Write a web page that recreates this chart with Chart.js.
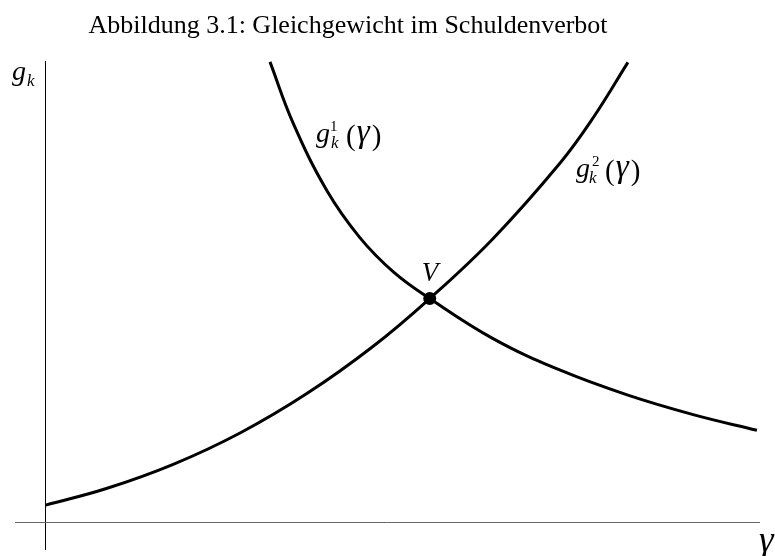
<!DOCTYPE html>
<html>
<head>
<meta charset="utf-8">
<script src="https://cdn.jsdelivr.net/npm/chart.js@4"></script>
<style>
html,body{margin:0;padding:0;background:#fff;}
#wrap{width:775px;height:556px;}
</style>
</head>
<body>
<div id="wrap"><canvas id="c" width="775" height="556"></canvas></div>
<script>
// ---- data (γ on x, g_k on y) ----
const gamma1 = [2.92, 3.22, 3.66, 4.09, 4.53, 5.00, 5.83, 6.70, 7.57, 8.43, 9.26];
const g1     = [10.28, 8.92, 7.41, 6.36, 5.59, 5.00, 4.10, 3.40, 2.85, 2.41, 2.06];
const gamma2 = [0.00, 0.79, 1.66, 2.53, 3.40, 4.26, 5.00, 5.82, 6.70, 7.13, 7.58];
const g2     = [0.39, 0.76, 1.30, 2.00, 2.88, 3.93, 5.00, 6.33, 8.03, 9.04, 10.27];
const equilibriumGamma = [5.0];
const equilibriumG     = [5.0];
const xRange = [-0.4, 9.3];
const yRange = [-0.6, 10.3];
const titleText = "Abbildung 3.1: Gleichgewicht im Schuldenverbot";

const toPts = (xs, ys) => xs.map((x, i) => ({x: x, y: ys[i]}));

const SERIF = '"Liberation Serif", "Times New Roman", serif';

function fontOf(r) { return (r.italic ? 'italic ' : '') + r.size + 'px ' + SERIF; }

function drawRuns(ctx, runs) {
  runs.forEach(r => {
    ctx.font = fontOf(r);
    ctx.fillStyle = '#000';
    ctx.textBaseline = 'alphabetic';
    ctx.textAlign = 'left';
    ctx.fillText(r.t, r.x, r.y);
  });
}

// draws "(γ)" tightly starting at x0
function drawParenGamma(ctx, x0, y, size, gSize) {
  const p = {t: '(', size: size, italic: false};
  const g = {t: 'γ', size: gSize, italic: true};
  ctx.font = fontOf(p);
  const wp = ctx.measureText('(').width;
  ctx.font = fontOf(g);
  const wg = ctx.measureText('γ').width;
  drawRuns(ctx, [
    Object.assign({x: x0, y: y + 3}, p),
    Object.assign({x: x0 + wp + 1, y: y}, g),
    {t: ')', size: size, italic: false, x: x0 + wp + wg + 3, y: y + 3}
  ]);
}

const labelPlugin = {
  id: 'labels',
  afterDraw(chart) {
    const ctx = chart.ctx;
    ctx.save();
    // title
    ctx.font = '26px ' + SERIF;
    ctx.textAlign = 'center';
    ctx.textBaseline = 'alphabetic';
    ctx.fillStyle = '#000';
    ctx.fillText(titleText, 348, 33, 520);

    // y-axis label g_k
    drawRuns(ctx, [
      {t: 'g', x: 12, y: 80, size: 28, italic: true},
      {t: 'k', x: 27, y: 86, size: 17, italic: true}
    ]);
    // x-axis label γ
    drawRuns(ctx, [
      {t: 'γ', x: 759, y: 552, size: 37, italic: true}
    ]);
    // g_k^1(γ)
    drawRuns(ctx, [
      {t: 'g', x: 316, y: 142, size: 28, italic: true},
      {t: '1', x: 330, y: 131, size: 15, italic: false},
      {t: 'k', x: 331, y: 148, size: 17, italic: true}
    ]);
    drawParenGamma(ctx, 346, 142, 29, 33);
    // g_k^2(γ)
    drawRuns(ctx, [
      {t: 'g', x: 576, y: 177, size: 28, italic: true},
      {t: '2', x: 592, y: 166, size: 15, italic: false},
      {t: 'k', x: 589, y: 183, size: 17, italic: true}
    ]);
    drawParenGamma(ctx, 605, 177, 29, 33);
    // V label above the equilibrium point
    const xs = chart.scales.x, ys = chart.scales.y;
    const vx = xs.getPixelForValue(equilibriumGamma[0]);
    const vy = ys.getPixelForValue(equilibriumG[0]);
    drawRuns(ctx, [
      {t: 'V', x: vx - 8, y: vy - 18, size: 27, italic: true}
    ]);
    ctx.restore();
  }
};

new Chart(document.getElementById('c'), {
  type: 'line',
  data: {
    datasets: [
      {
        label: 'g1',
        data: toPts(gamma1, g1),
        borderColor: '#000',
        borderWidth: 3,
        pointRadius: 0,
        fill: false,
        tension: 0.4
      },
      {
        label: 'g2',
        data: toPts(gamma2, g2),
        borderColor: '#000',
        borderWidth: 3,
        pointRadius: 0,
        fill: false,
        tension: 0.4
      },
      {
        label: 'V',
        data: toPts(equilibriumGamma, equilibriumG),
        showLine: false,
        pointRadius: 6.5,
        pointBackgroundColor: '#000',
        pointBorderColor: '#000',
        pointBorderWidth: 0
      }
    ]
  },
  options: {
    responsive: false,
    animation: false,
    events: [],
    layout: {padding: {left: 15, right: 15, top: 61, bottom: 1}},
    plugins: {
      legend: {display: false},
      title: {display: false},
      tooltip: {enabled: false}
    },
    scales: {
      x: {
        type: 'linear',
        min: xRange[0],
        max: xRange[1],
        afterBuildTicks: s => { s.ticks = [{value: 0}]; },
        ticks: {display: false},
        border: {display: false},
        grid: {drawTicks: false, lineWidth: 1, color: '#000'}
      },
      y: {
        type: 'linear',
        min: yRange[0],
        max: yRange[1],
        afterBuildTicks: s => { s.ticks = [{value: 0}]; },
        ticks: {display: false},
        border: {display: false},
        grid: {drawTicks: false, lineWidth: 1, color: '#666'}
      }
    }
  },
  plugins: [labelPlugin]
});
</script>
</body>
</html>
